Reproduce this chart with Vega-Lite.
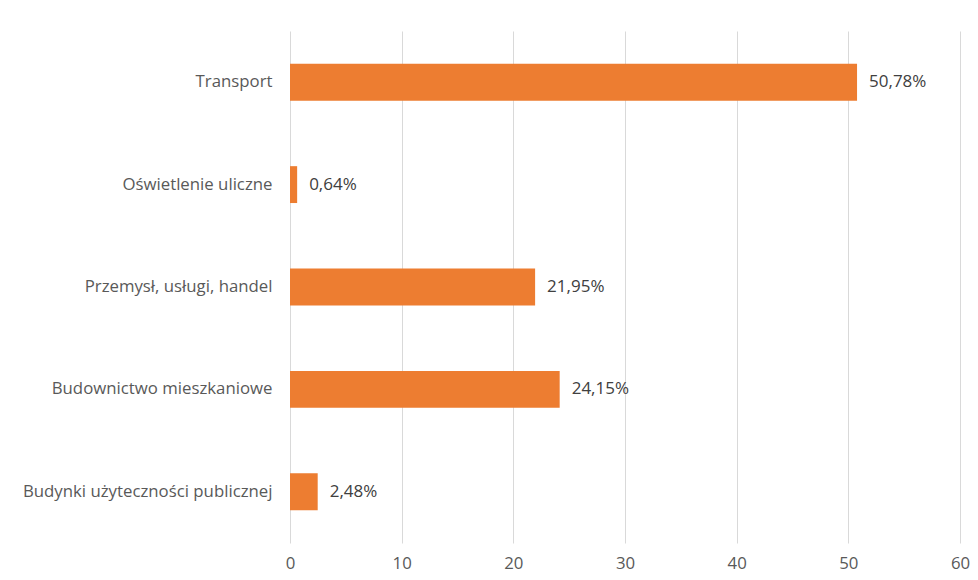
{
  "$schema": "https://vega.github.io/schema/vega-lite/v6.json",
  "width": 670,
  "height": 512,
  "autosize": {"type": "none"},
  "padding": {"left": 290, "top": 31, "right": 18, "bottom": 37},
  "background": "white",
  "config": {
    "view": {"stroke": null},
    "font": "Open Sans",
    "axis": {"labelFont": "Open Sans", "labelColor": "#595959", "labelFontSize": 16.8, "domain": false, "ticks": false}
  },
  "data": {
    "values": [
      {"sektor": "Transport", "udzial": 50.78, "etykieta": "50,78%"},
      {"sektor": "Oświetlenie uliczne", "udzial": 0.64, "etykieta": "0,64%"},
      {"sektor": "Przemysł, usługi, handel", "udzial": 21.95, "etykieta": "21,95%"},
      {"sektor": "Budownictwo mieszkaniowe", "udzial": 24.15, "etykieta": "24,15%"},
      {"sektor": "Budynki użyteczności publicznej", "udzial": 2.48, "etykieta": "2,48%"}
    ]
  },
  "encoding": {
    "y": {
      "field": "sektor",
      "type": "nominal",
      "sort": null,
      "title": null,
      "scale": {"paddingInner": 0.64, "paddingOuter": 0.32},
      "axis": {"labelPadding": 18, "grid": false, "labelLimit": 300}
    },
    "x": {
      "field": "udzial",
      "type": "quantitative",
      "title": null,
      "scale": {"domain": [0, 60], "nice": false},
      "axis": {"values": [0, 10, 20, 30, 40, 50, 60], "grid": true, "gridColor": "#d9d9d9", "labelPadding": 12, "labelFlush": false}
    }
  },
  "layer": [
    {"mark": {"type": "bar", "color": "#ED7D31"}},
    {
      "mark": {"type": "text", "align": "left", "baseline": "middle", "dx": 12, "fontSize": 17, "color": "#404040", "font": "Open Sans"},
      "encoding": {"text": {"field": "etykieta"}}
    }
  ]
}
